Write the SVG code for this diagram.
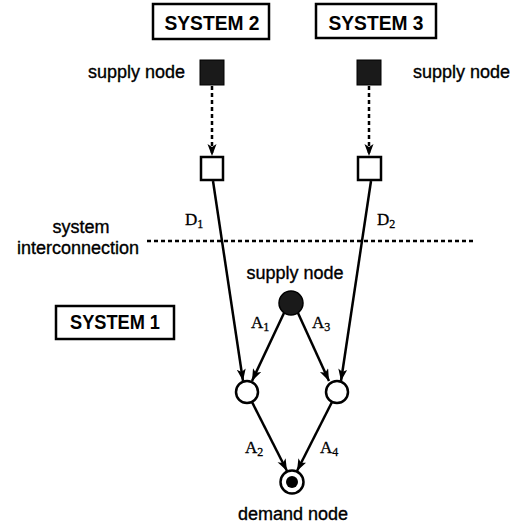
<svg xmlns="http://www.w3.org/2000/svg" width="518" height="527" viewBox="0 0 518 527">
<style>
.lbl{font-family:"Liberation Sans",Arial,sans-serif;font-size:18px;fill:#000;stroke:#000;stroke-width:0.35}
.sys{font-family:"Liberation Sans",Arial,sans-serif;font-size:20px;font-weight:bold;fill:#000}
.var{font-family:"Liberation Serif","Times New Roman",serif;font-size:17px;fill:#000;stroke:#000;stroke-width:0.3}
.sub{font-size:12px}
.box{fill:#fff;stroke:#000;stroke-width:2.5}
.edge{stroke:#000;stroke-width:2.5;fill:none}
.dash{stroke:#000;stroke-width:2.5;fill:none;stroke-dasharray:4 3}
</style>
<defs>
<marker id="ah" markerUnits="userSpaceOnUse" markerWidth="13" markerHeight="10" refX="12" refY="4.5" orient="auto">
<path d="M0,0 L12,4.5 L0,9 L3,4.5 z" fill="#000"/>
</marker>
</defs>
<rect width="518" height="527" fill="#fff"/>

<g id="system2">
<rect class="box" x="153" y="4" width="116" height="35"/>
<text class="sys" x="212" y="30" text-anchor="middle" textLength="95" lengthAdjust="spacingAndGlyphs">SYSTEM 2</text>
</g>
<g id="system3">
<rect class="box" x="316" y="4" width="120" height="34"/>
<text class="sys" x="376" y="30" text-anchor="middle" textLength="95" lengthAdjust="spacingAndGlyphs">SYSTEM 3</text>
</g>
<g id="system1">
<rect class="box" x="56" y="306" width="118" height="33"/>
<text class="sys" x="115" y="329" text-anchor="middle" textLength="90" lengthAdjust="spacingAndGlyphs">SYSTEM 1</text>
</g>

<g id="supply2">
<rect x="200" y="60" width="24" height="25" fill="#1a1a1a" stroke="#000" stroke-width="1"/>
<text class="lbl" x="185" y="78" text-anchor="end">supply node</text>
</g>
<g id="supply3">
<rect x="357" y="60" width="24" height="25" fill="#1a1a1a" stroke="#000" stroke-width="1"/>
<text class="lbl" x="413" y="78">supply node</text>
</g>
<g id="inter2">
<rect class="box" x="201" y="157" width="22" height="23"/>
</g>
<g id="inter3">
<rect class="box" x="358" y="157" width="23" height="23"/>
</g>
<g id="interconnection">
<text class="lbl" x="81" y="233" text-anchor="middle">system</text>
<text class="lbl" x="78" y="254" text-anchor="middle">interconnection</text>
<line class="dash" x1="147" y1="241" x2="474" y2="241" stroke-width="2"/>
</g>
<g id="supply1">
<circle cx="291" cy="303" r="12" fill="#1a1a1a" stroke="#000" stroke-width="1.5"/>
<text class="lbl" x="295" y="279" text-anchor="middle">supply node</text>
</g>
<g id="mid1">
<circle cx="247" cy="392" r="11" fill="#fff" stroke="#000" stroke-width="2.5"/>
</g>
<g id="mid2">
<circle cx="337" cy="392" r="11" fill="#fff" stroke="#000" stroke-width="2.5"/>
</g>
<g id="demand">
<circle cx="292" cy="482" r="11.5" fill="#fff" stroke="#000" stroke-width="2.5"/>
<circle cx="292" cy="482" r="6" fill="#000"/>
<text class="lbl" x="293" y="520" text-anchor="middle">demand node</text>
</g>

<g id="connectors">
<line class="dash" x1="212" y1="86" x2="212" y2="156" marker-end="url(#ah)"/>
<line class="dash" x1="369" y1="86" x2="369" y2="156" marker-end="url(#ah)"/>
<line class="edge" x1="213" y1="181" x2="243" y2="381" marker-end="url(#ah)"/>
<line class="edge" x1="371" y1="181" x2="341" y2="381" marker-end="url(#ah)"/>
<line class="edge" x1="284" y1="313" x2="252" y2="381" marker-end="url(#ah)"/>
<line class="edge" x1="298" y1="313" x2="329" y2="381" marker-end="url(#ah)"/>
<line class="edge" x1="252" y1="402" x2="287" y2="471" marker-end="url(#ah)"/>
<line class="edge" x1="332" y1="402" x2="297" y2="471" marker-end="url(#ah)"/>
<text class="var" x="185" y="225">D<tspan class="sub" dy="3">1</tspan></text>
<text class="var" x="377" y="225">D<tspan class="sub" dy="3">2</tspan></text>
<text class="var" x="251" y="328">A<tspan class="sub" dy="3">1</tspan></text>
<text class="var" x="312" y="328">A<tspan class="sub" dy="3">3</tspan></text>
<text class="var" x="245" y="453">A<tspan class="sub" dy="3">2</tspan></text>
<text class="var" x="320" y="453">A<tspan class="sub" dy="3">4</tspan></text>
</g>
</svg>
